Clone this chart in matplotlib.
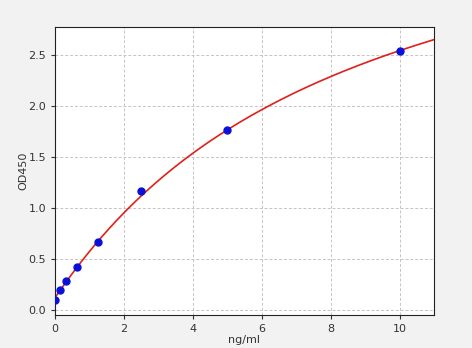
import numpy as np
import matplotlib.pyplot as plt

# standard points
conc = [0, 0.156, 0.313, 0.625, 1.25, 2.5, 5, 10]
od = [0.10, 0.19, 0.28, 0.42, 0.66, 1.16, 1.76, 2.54]

# 4PL fit params (a, b, c, d)
a, b, c, d = 0.12, 1.02, 8.54, 4.6


def four_pl(x):
    return d + (a - d) / (1 + (x / c) ** b)


fig = plt.figure(figsize=(4.72, 3.48), dpi=100, facecolor='#f2f2f2')
ax = fig.add_axes([0.1165, 0.095, 0.803, 0.827])
ax.set_facecolor('white')

xs = np.linspace(0, 11, 300)
ax.plot(xs, four_pl(xs), color='#e0201b', lw=1.2, zorder=2)
ax.plot(conc, od, 'o', color='#0a10d8', ms=5, zorder=3)

ax.set_xlim(0, 11)
ax.set_ylim(-0.05, 2.77)
ax.set_xticks([0, 2, 4, 6, 8, 10])
ax.set_yticks([0.0, 0.5, 1.0, 1.5, 2.0, 2.5])
ax.grid(True, linestyle=(0, (3, 2)), color='#c4c4c4', lw=0.7)
ax.tick_params(labelsize=8, colors='#333333', length=3)
ax.set_xlabel('ng/ml', fontsize=8, color='#333333', labelpad=1)
ax.set_ylabel('OD450', fontsize=8, color='#333333', labelpad=0)
for s in ax.spines.values():
    s.set_color('#222222')

fig.savefig('out.png', dpi=100, facecolor=fig.get_facecolor())
